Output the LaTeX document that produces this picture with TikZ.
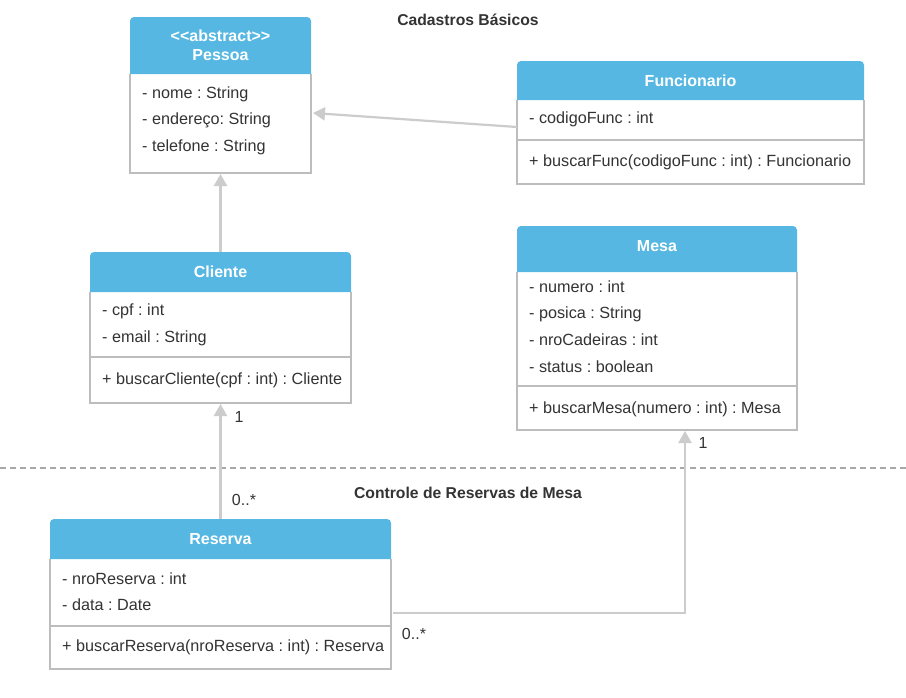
\documentclass[tikz,border=0pt]{standalone}
\usepackage{fontspec}
\setmainfont{Liberation Sans}[Ligatures=TeXOff]
\frenchspacing
\usetikzlibrary{arrows.meta,calc}
\definecolor{hdr}{HTML}{56B8E2}
\definecolor{brd}{HTML}{BDBDBD}
\definecolor{lnk}{HTML}{CCCCCC}
\definecolor{txt}{HTML}{333333}
\definecolor{dsh}{HTML}{A8A8A8}
\tikzset{
  classbox/.style={draw=none,inner sep=0pt,outer sep=0pt,anchor=north west},
  body/.style={draw=brd,line width=1.6pt},
  headfill/.style={fill=hdr},
  sep/.style={draw=brd,line width=1.6pt},
  hdtext/.style={text=white,font=\fontsize{16}{19}\selectfont\bfseries\frenchspacing,align=center,inner sep=0pt},
  row/.style={text=txt,font=\fontsize{16.2}{19}\selectfont\frenchspacing,anchor=west,inner sep=0pt,yshift=-1.2pt},
  title/.style={text=txt,font=\fontsize{15.7}{18}\selectfont\bfseries\frenchspacing,inner sep=0pt},
  mult/.style={text=txt,font=\fontsize{16}{19}\selectfont,inner sep=0pt},
  link/.style={draw=lnk,line width=2.2pt},
  inh/.style={link,-{Triangle[length=12pt,width=13pt,fill=lnk]}},
}
% \umlbox{name}{x1}{y1}{x2}{y2}{yhead}
\newcommand{\umlbox}[6]{%
  \node[classbox,minimum width={(#4-#2)*1pt},minimum height={(#5-#3)*1pt}] (#1) at (#2,#3) {};
  \draw[body] (#2,#6) -- (#2,#5) -- (#4,#5) -- (#4,#6);
  \fill[headfill] (#2,#6) [rounded corners=4pt] -- (#2,#3) -- (#4,#3) [sharp corners] -- (#4,#6) -- cycle;
}
\begin{document}
\begin{tikzpicture}[x=1pt,y=-1pt]
\useasboundingbox (0,0) rectangle (906,697);
\fill[white] (0,0) rectangle (906,697);

% section titles and separator
\node[title] (t1) at (468,20) {Cadastros Básicos};
\node[title] (t2) at (468,493) {Controle de Reservas de Mesa};
\coordinate (dl) at (0,468);
\coordinate (dr) at (906,468);
\draw[dsh,line width=1.2pt,dash pattern=on 6pt off 4pt] (dl) -- (dr);

% Pessoa
\umlbox{pessoa}{130}{17}{311}{173}{74}
\node[hdtext] (pessoaH) at (220.5,45.5) {<<abstract>>\\Pessoa};
\node[row] (p1) at (142,93) {- nome : String};
\node[row] (p2) at (142,119) {- endereço: String};
\node[row] (p3) at (142,146) {- telefone : String};

% Funcionario
\umlbox{func}{517}{61}{864}{184}{100}
\node[hdtext] (funcH) at (690.5,81) {Funcionario};
\node[row] (f1) at (529,118) {- codigoFunc : int};
\draw[sep] (517,140) -- (864,140);
\node[row] (f2) at (529,161) {+ buscarFunc(codigoFunc : int) : Funcionario};

% Cliente
\umlbox{cliente}{90}{252}{351}{403}{292}
\node[hdtext] (clienteH) at (220.5,272) {Cliente};
\node[row] (c1) at (102,310) {- cpf : int};
\node[row] (c2) at (102,337) {- email : String};
\draw[sep] (90,357) -- (351,357);
\node[row] (c3) at (102,379) {+ buscarCliente(cpf : int) : Cliente};

% Mesa
\umlbox{mesa}{517}{226}{797}{430}{272}
\node[hdtext] (mesaH) at (657,246) {Mesa};
\node[row] (m1) at (529,286) {- numero : int};
\node[row] (m2) at (529,313) {- posica : String};
\node[row] (m3) at (529,339) {- nroCadeiras : int};
\node[row] (m4) at (529,366) {- status : boolean};
\draw[sep] (517,386) -- (797,386);
\node[row] (m5) at (529,408) {+ buscarMesa(numero : int) : Mesa};

% Reserva
\umlbox{reserva}{50}{519}{391}{669}{559}
\node[hdtext] (reservaH) at (220.5,539) {Reserva};
\node[row] (r1) at (62,578) {- nroReserva : int};
\node[row] (r2) at (62,604) {- data : Date};
\draw[sep] (50,626) -- (391,626);
\node[row] (r3) at (62,646) {+ buscarReserva(nroReserva : int) : Reserva};

% connectors
\draw[inh] ($(func.north west)+(0,66)$) -- ($(pessoa.north east)+(2,96)$);
\draw[inh] (cliente.north) -- ($(pessoa.south)+(0,1)$);
\draw[inh] (reserva.north) -- ($(cliente.south)+(0,1)$);
\coordinate (bend) at (685,613);
\draw[inh] ($(reserva.north east)+(2,94)$) -- (bend) -- ($(mesa.south west)+(168,1)$);

% multiplicities
\node[mult] (mu1) at (239,417) {1};
\node[mult] (mu2) at (244,500) {0..*};
\node[mult] (mu3) at (703,443) {1};
\node[mult] (mu4) at (414,634) {0..*};
\end{tikzpicture}
\end{document}
